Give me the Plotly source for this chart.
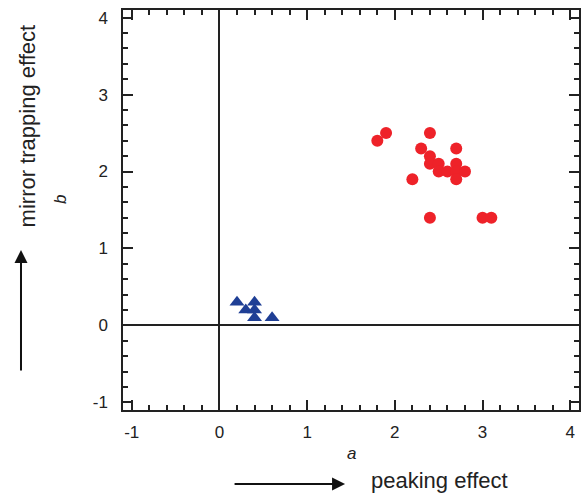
import plotly.graph_objects as go

# Data
red_a = [1.8, 1.9, 2.4, 2.3, 2.7, 2.4, 2.4, 2.5, 2.7, 2.5, 2.6, 2.7, 2.8, 2.7, 2.2, 2.4, 3.0, 3.1]
red_b = [2.4, 2.5, 2.5, 2.3, 2.3, 2.2, 2.1, 2.1, 2.1, 2.0, 2.0, 2.0, 2.0, 1.9, 1.9, 1.4, 1.4, 1.4]
blue_a = [0.2, 0.3, 0.4, 0.4, 0.4, 0.6]
blue_b = [0.3, 0.2, 0.3, 0.2, 0.1, 0.1]
tick_vals = [-1, 0, 1, 2, 3, 4]
tick_text = ["-1", "0", "1", "2", "3", "4"]
axis_range = [-1.1, 4.1]

FONT = "Liberation Sans, Arial, sans-serif"
INK = "#222"

fig = go.Figure()
fig.add_trace(go.Scatter(x=red_a, y=red_b, mode="markers",
                         marker=dict(symbol="circle", size=12, color="#EE2229"),
                         showlegend=False))
fig.add_trace(go.Scatter(x=blue_a, y=blue_b, mode="markers",
                         marker=dict(symbol="triangle-up", size=13, color="#1F3F95"),
                         showlegend=False))
# invisible trace to anchor mirrored tick axes
fig.add_trace(go.Scatter(x=[None], y=[None], xaxis="x2", yaxis="y2",
                         showlegend=False, hoverinfo="skip"))

tick_style = dict(
    range=axis_range,
    tickmode="array", tickvals=tick_vals, ticktext=tick_text,
    ticks="inside", ticklen=10, tickwidth=1.5, tickcolor=INK,
    minor=dict(ticks="inside", ticklen=5, tickmode="linear", tick0=0, dtick=0.2,
               tickwidth=1.5, tickcolor=INK, showgrid=False),
    showline=True, linecolor=INK, linewidth=1.5,
    showgrid=False,
    tickfont=dict(family=FONT, size=17, color=INK),
)

fig.update_layout(
    xaxis=dict(**tick_style, zeroline=True, zerolinecolor=INK, zerolinewidth=1.5,
               ticklabelstandoff=6),
    yaxis=dict(**tick_style, zeroline=True, zerolinecolor=INK, zerolinewidth=1.5,
               ticklabelstandoff=10),
    xaxis2=dict(**tick_style, overlaying="x", side="top", anchor="y2",
                showticklabels=False, zeroline=False),
    yaxis2=dict(**tick_style, overlaying="y", side="right", anchor="x2",
                showticklabels=False, zeroline=False),
)

ann_common = dict(xref="paper", yref="paper", xanchor="center", yanchor="middle",
                  showarrow=False, borderpad=0)
ann = [
    dict(x=0.502, y=-0.1075, text="<i>a</i>",
         font=dict(family=FONT, size=17, color=INK), **ann_common),
    dict(x=-0.138, y=0.525, text="<i>b</i>", textangle=-90,
         font=dict(family=FONT, size=17, color=INK), **ann_common),
    dict(x=0.693, y=-0.1755, text="peaking effect",
         font=dict(family=FONT, size=22, color=INK), **ann_common),
    dict(x=-0.2105, y=0.709, text="mirror trapping effect", textangle=-90,
         font=dict(family=FONT, size=22, color=INK), **ann_common),
    dict(x=0.487, y=-0.185, xref="paper", yref="paper", text="", showarrow=True,
         ax=-112, ay=0, arrowhead=2, arrowsize=1.3, arrowwidth=2, arrowcolor="#111"),
    dict(x=-0.2237, y=0.4, xref="paper", yref="paper", text="", showarrow=True,
         ax=0, ay=122, arrowhead=2, arrowsize=1.3, arrowwidth=2, arrowcolor="#111"),
]

fig.update_layout(
    width=581, height=494,
    margin=dict(l=123, r=2, t=10, b=84),
    paper_bgcolor="white", plot_bgcolor="white",
    annotations=ann,
)

fig.write_html("out.html")
